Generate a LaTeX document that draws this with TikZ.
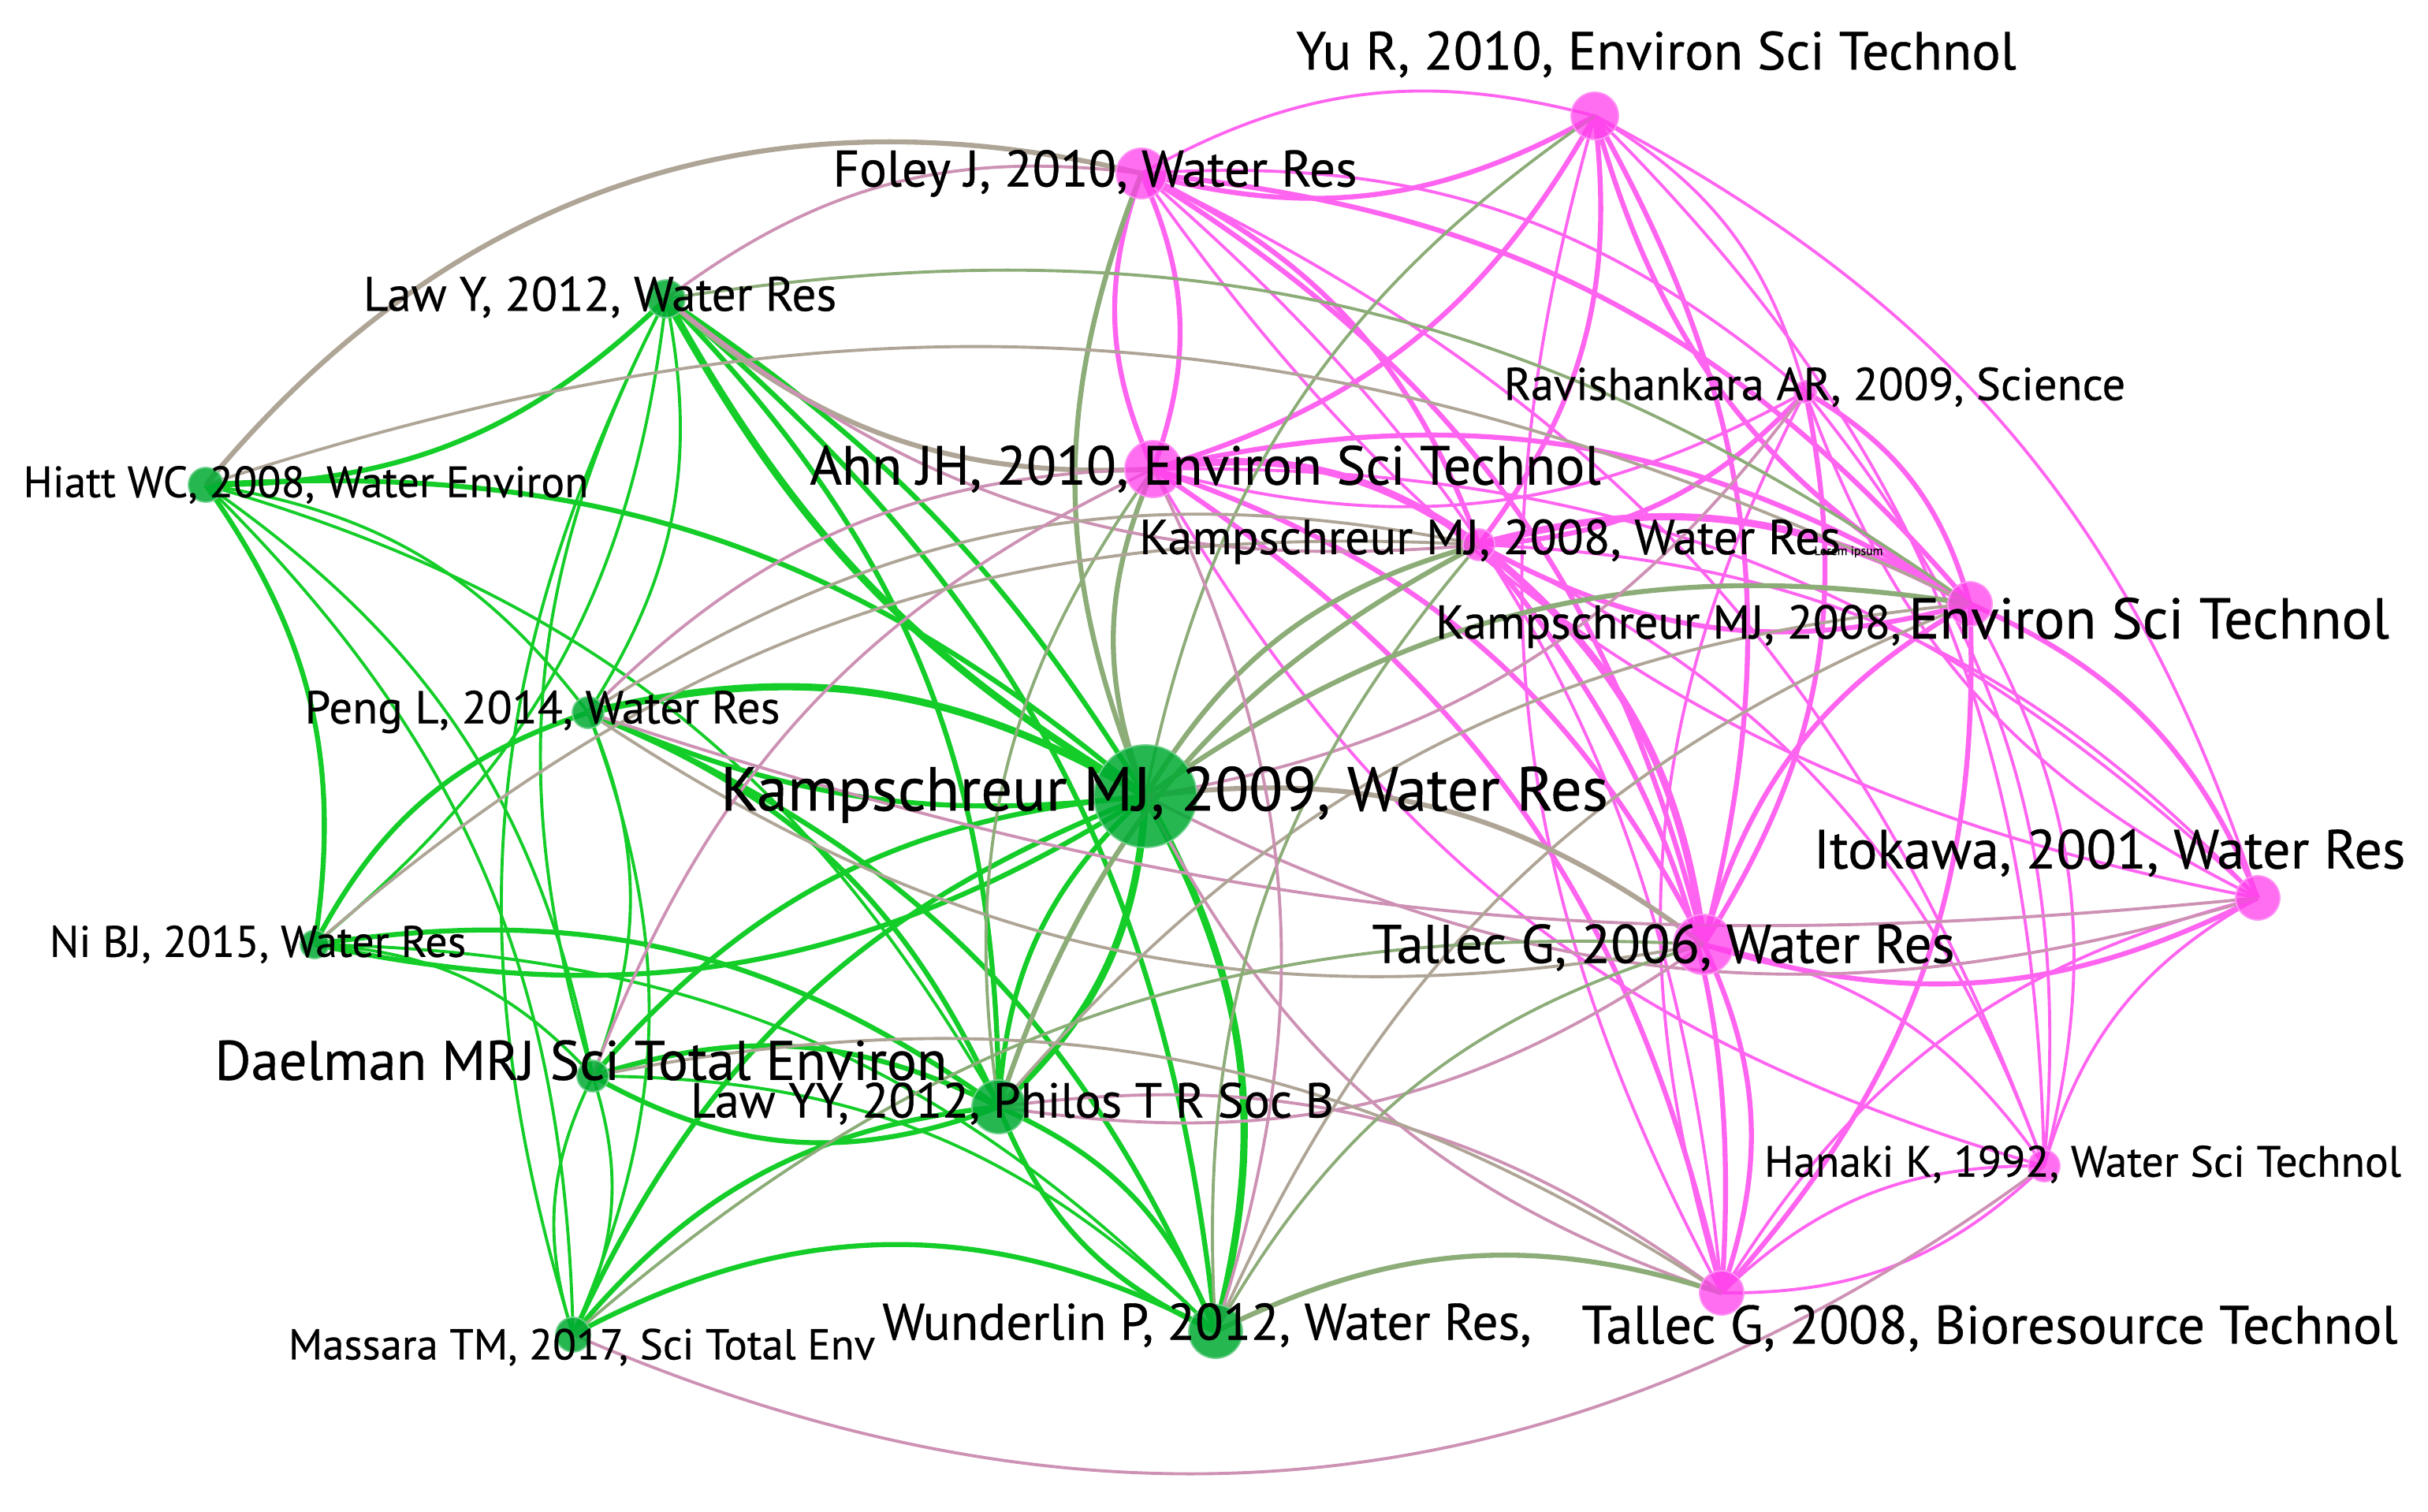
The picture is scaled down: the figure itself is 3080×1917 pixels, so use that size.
\documentclass[tikz,border=0pt]{standalone}
\usepackage{fontspec}
\setmainfont[FakeBold=0.5]{PT Sans}
\pgfdeclarelayer{edgelayer}
\pgfsetlayers{edgelayer,main}
\definecolor{gE}{RGB}{20,205,40}
\definecolor{pE}{RGB}{255,100,240}
\definecolor{xG}{RGB}{140,172,120}
\definecolor{xP}{RGB}{205,145,180}
\definecolor{xT}{RGB}{175,165,150}
\definecolor{gN}{RGB}{0,170,50}
\definecolor{pN}{RGB}{255,60,235}
\newcommand\lf[1]{\fontsize{#1}{#1}\selectfont}
\newcommand\ed[4][22]{\draw[#4] (#2.center) to[bend left=#1] (#3.center);}
\tikzset{
  gnode/.style={circle, inner sep=0pt, fill=gN, fill opacity=0.85, draw=gN!55!white, line width=0.5pt},
  pnode/.style={circle, inner sep=0pt, fill=pN, fill opacity=0.75, draw=pN!55!white, line width=0.5pt},
  lab/.style={inner sep=0pt, text=black},
  ge/.style={draw=gE},
  pe/.style={draw=pE},
  xg/.style={draw=xG},
  xp/.style={draw=xP},
  xt/.style={draw=xT},
  lw1/.style={line width=1.1pt},
  lw2/.style={line width=1.8pt},
  lw3/.style={line width=2.6pt},
}
\begin{document}
\begin{tikzpicture}[x=0.01cm,y=-0.01cm]
\useasboundingbox (0,0) rectangle (3080,1917);
% nodes
\node[pnode, minimum size=0.60cm] (yu) at (2023,147) {};
\node[pnode, minimum size=0.64cm] (fo) at (1448,220) {};
\node[gnode, minimum size=0.48cm] (ly) at (845,379) {};
\node[gnode, minimum size=0.44cm] (hi) at (261,615) {};
\node[pnode, minimum size=0.72cm] (ahn) at (1463,595) {};
\node[pnode, minimum size=0.28cm] (ra) at (2290,497) {};
\node[pnode, minimum size=0.40cm] (k8w) at (1876,691) {};
\node[pnode, minimum size=0.56cm] (k8e) at (2499,766) {};
\node[gnode, minimum size=0.40cm] (pe) at (746,904) {};
\node[gnode, minimum size=1.30cm] (k9) at (1453,1010) {};
\node[pnode, minimum size=0.56cm] (ito) at (2864,1139) {};
\node[pnode, minimum size=0.76cm] (t6) at (2161,1198) {};
\node[gnode, minimum size=0.36cm] (ni) at (399,1198) {};
\node[gnode, minimum size=0.40cm] (da) at (752,1365) {};
\node[gnode, minimum size=0.68cm] (lyy) at (1267,1404) {};
\node[pnode, minimum size=0.40cm] (ha) at (2593,1479) {};
\node[pnode, minimum size=0.56cm] (t8) at (2184,1640) {};
\node[gnode, minimum size=0.68cm] (wu) at (1542,1689) {};
\node[gnode, minimum size=0.44cm] (ma) at (727,1693) {};
% edges
\begin{pgfonlayer}{edgelayer}
% green cluster
\ed{ly}{hi}{ge,lw2}
\ed{hi}{pe}{ge,lw1}
\ed{ly}{pe}{ge,lw1}
\ed[-15]{ly}{k9}{ge,lw3}
\ed[12]{ly}{k9}{ge,lw2}
\ed{ly}{ni}{ge,lw1}
\ed{da}{ly}{ge,lw1}
\ed{ly}{lyy}{ge,lw2}
\ed{ly}{wu}{ge,lw2}
\ed{ma}{ly}{ge,lw1}
\ed{hi}{k9}{ge,lw2}
\ed{hi}{ni}{ge,lw2}
\ed{hi}{da}{ge,lw1}
\ed{hi}{lyy}{ge,lw1}
\ed{hi}{ma}{ge,lw1}
\ed{pe}{k9}{ge,lw3}
\ed[-15]{pe}{k9}{ge,lw2}
\ed{ni}{pe}{ge,lw2}
\ed{pe}{da}{ge,lw1}
\ed{pe}{lyy}{ge,lw2}
\ed{pe}{wu}{ge,lw2}
\ed{pe}{ma}{ge,lw1}
\ed{k9}{ni}{ge,lw2}
\ed{da}{k9}{ge,lw2}
\ed{k9}{lyy}{ge,lw3}
\ed{lyy}{k9}{ge,lw2}
\ed{k9}{wu}{ge,lw3}
\ed{ma}{k9}{ge,lw2}
\ed{ni}{da}{ge,lw1}
\ed{ni}{lyy}{ge,lw2}
\ed{ni}{wu}{ge,lw1}
\ed{da}{lyy}{ge,lw2}
\ed[-25]{da}{lyy}{ge,lw2}
\ed{da}{wu}{ge,lw1}
\ed{da}{ma}{ge,lw1}
\ed{ma}{da}{ge,lw1}
\ed{lyy}{wu}{ge,lw2}
\ed{wu}{lyy}{ge,lw2}
\ed{ma}{lyy}{ge,lw2}
\ed[28]{ma}{wu}{ge,lw2}
% pink cluster
\ed{yu}{fo}{pe,lw2}
\ed{fo}{yu}{pe,lw1}
\ed{yu}{ahn}{pe,lw2}
\ed{yu}{ra}{pe,lw1}
\ed{yu}{k8w}{pe,lw2}
\ed{k8e}{yu}{pe,lw2}
\ed{yu}{ito}{pe,lw1}
\ed{yu}{t6}{pe,lw2}
\ed{yu}{ha}{pe,lw1}
\ed{t8}{yu}{pe,lw1}
\ed{fo}{ahn}{pe,lw2}
\ed{ahn}{fo}{pe,lw2}
\ed{fo}{ra}{pe,lw1}
\ed{fo}{k8w}{pe,lw2}
\ed{fo}{k8e}{pe,lw2}
\ed{ito}{fo}{pe,lw1}
\ed{fo}{t6}{pe,lw2}
\ed{fo}{ha}{pe,lw1}
\ed{fo}{t8}{pe,lw1}
\ed{ra}{ahn}{pe,lw1}
\ed{ahn}{k8w}{pe,lw3}
\ed{ahn}{k8e}{pe,lw2}
\ed{ahn}{ito}{pe,lw1}
\ed{ahn}{t6}{pe,lw2}
\ed{ha}{ahn}{pe,lw1}
\ed{ahn}{t8}{pe,lw2}
\ed{ra}{k8w}{pe,lw2}
\ed{ra}{k8e}{pe,lw2}
\ed{ito}{ra}{pe,lw1}
\ed{ra}{t6}{pe,lw2}
\ed{ra}{ha}{pe,lw1}
\ed{t8}{ra}{pe,lw1}
\ed{k8w}{k8e}{pe,lw3}
\ed{k8e}{k8w}{pe,lw2}
\ed{k8w}{ito}{pe,lw1}
\ed{k8w}{t6}{pe,lw3}
\ed{k8w}{ha}{pe,lw1}
\ed{k8w}{t8}{pe,lw2}
\ed{k8e}{ito}{pe,lw2}
\ed{t6}{k8e}{pe,lw2}
\ed{k8e}{ha}{pe,lw1}
\ed{k8e}{t8}{pe,lw2}
\ed{ito}{t6}{pe,lw2}
\ed{ha}{ito}{pe,lw1}
\ed{t8}{ito}{pe,lw1}
\ed{t6}{ha}{pe,lw1}
\ed{t6}{t8}{pe,lw2}
\ed{ha}{t8}{pe,lw1}
\ed{t8}{ha}{pe,lw1}
% cross edges
\ed{k9}{fo}{xg,lw2}
\ed{k9}{ahn}{xg,lw2}
\ed{k9}{k8w}{xg,lw2}
\ed{k9}{k8e}{xg,lw2}
\ed{k9}{t6}{xt,lw2}
\ed{ito}{k9}{xp,lw1}
\ed{t8}{k9}{xp,lw1}
\ed{k9}{yu}{xg,lw1}
\ed{ra}{k9}{xp,lw1}
\ed{ly}{fo}{xp,lw1}
\ed[32]{hi}{fo}{xt,lw2}
\ed{ahn}{ly}{xt,lw2}
\ed{ly}{k8e}{xg,lw1}
\ed{k8w}{ly}{xp,lw1}
\ed{pe}{ahn}{xp,lw1}
\ed{pe}{k8w}{xt,lw1}
\ed[-12]{pe}{ito}{xp,lw1}
\ed{t6}{pe}{xt,lw1}
\ed{lyy}{ahn}{xg,lw1}
\ed{lyy}{k8w}{xg,lw2}
\ed{lyy}{k8e}{xt,lw1}
\ed{t6}{lyy}{xp,lw1}
\ed{lyy}{t8}{xp,lw1}
\ed{wu}{t8}{xg,lw2}
\ed{wu}{t6}{xg,lw1}
\ed{wu}{k8w}{xg,lw1}
\ed{ahn}{wu}{xp,lw1}
\ed{wu}{k8e}{xt,lw1}
\ed{da}{t8}{xt,lw1}
\ed{da}{ahn}{xp,lw1}
\ed[-30]{ma}{ha}{xp,lw1}
\ed{ma}{t6}{xg,lw1}
\ed{ni}{k8w}{xt,lw1}
\ed{hi}{k8e}{xt,lw1}
\end{pgfonlayer}
% labels
\node[lab] (lyu) at (2101,69) {\lf{19.4pt}Yu R, 2010, Environ Sci Technol};
\node[lab] (lfo) at (1389,220) {\lf{18.5pt}Foley J, 2010, Water Res};
\node[lab] (lly) at (761,377) {\lf{17.4pt}Law Y, 2012, Water Res};
\node[lab] (lhi) at (388,615) {\lf{15.8pt}Hiatt WC, 2008, Water Environ};
\node[lab] (lahn) at (1529,595) {\lf{19.8pt}Ahn JH, 2010, Environ Sci Technol};
\node[lab] (lra) at (2302,491) {\lf{16.6pt}Ravishankara AR, 2009, Science};
\node[lab] (lk8w) at (1890,687) {\lf{17.7pt}Kampschreur MJ, 2008, Water Res};
\node[lab] (lorem) at (2345,700) {\lf{4.5pt}Lorem ipsum};
\node[lab] (lk8e) at (2426,790) {{\lf{17.1pt}Kampschreur MJ, 2008,} {\lf{20.8pt}Environ Sci Technol}};
\node[lab] (lpe) at (688,903) {\lf{16.7pt}Peng L, 2014, Water Res};
\node[lab] (lk9) at (1477,1008) {\lf{22.4pt}Kampschreur MJ, 2009, Water Res};
\node[lab] (lito) at (2676,1082) {\lf{19.9pt}Itokawa, 2001, Water Res};
\node[lab] (lt6) at (2110,1202) {\lf{19.6pt}Tallec G, 2006, Water Res};
\node[lab] (lni) at (327,1198) {\lf{15.9pt}Ni BJ, 2015, Water Res};
\node[lab] (lda) at (737,1345) {\lf{20.1pt}Daelman MRJ Sci Total Environ};
\node[lab] (llyy) at (1284,1400) {\lf{17.7pt}Law YY, 2012, Philos T R Soc B};
\node[lab] (lha) at (2642,1477) {\lf{15.8pt}Hanaki K, 1992, Water Sci Technol};
\node[lab] (lt8) at (2524,1685) {\lf{19.5pt}Tallec G, 2008, Bioresource Technol};
\node[lab] (lwu) at (1531,1681) {\lf{18.5pt}Wunderlin P, 2012, Water Res,};
\node[lab] (lma) at (738,1709) {\lf{15.6pt}Massara TM, 2017, Sci Total Env};
\end{tikzpicture}
\end{document}
